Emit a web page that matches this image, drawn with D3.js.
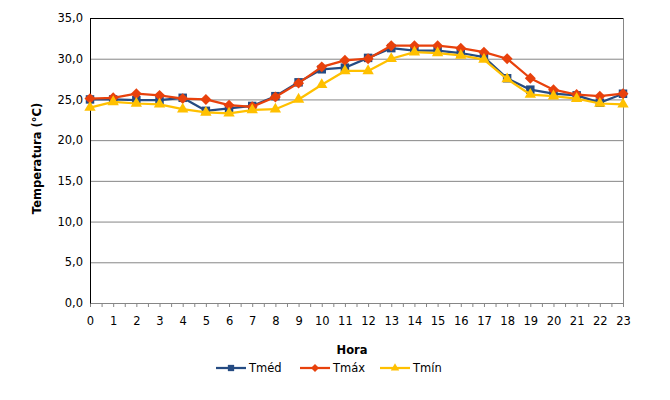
<!DOCTYPE html>
<html>
<head>
<meta charset="utf-8">
<script src="https://cdn.jsdelivr.net/npm/d3@7"></script>
<style>
  body { margin: 0; background: #fff; }
  svg text { font-family: Verdana, "DejaVu Sans", sans-serif; fill: #000; }
</style>
</head>
<body>
<svg id="chart" width="670" height="400"></svg>
<script>
// Hours 0..23
const hours = d3.range(0, 24);
const yTicks = [0, 5, 10, 15, 20, 25, 30, 35];

const tmed = [25.0, 25.0, 24.9, 24.9, 25.2, 23.6, 23.9, 24.2, 25.4, 27.1, 28.7, 28.9,
              30.1, 31.3, 31.0, 31.0, 30.7, 30.2, 27.6, 26.2, 25.7, 25.5, 24.6, 25.7];
const tmax = [25.1, 25.2, 25.7, 25.5, 25.1, 25.0, 24.3, 24.1, 25.3, 27.0, 29.0, 29.8,
              30.0, 31.6, 31.6, 31.6, 31.3, 30.8, 30.0, 27.6, 26.2, 25.6, 25.4, 25.7];
const tmin = [24.0, 24.7, 24.5, 24.4, 23.8, 23.4, 23.3, 23.7, 23.8, 25.0, 26.8, 28.5,
              28.5, 30.0, 30.8, 30.7, 30.4, 29.9, 27.5, 25.6, 25.4, 25.1, 24.5, 24.4];

const series = [
  { name: 'Tméd', values: tmed, color: '#254B82', symbol: d3.symbolSquare, size: 72, rot: 0 },
  { name: 'Tmáx', values: tmax, color: '#E8410C', symbol: d3.symbolSquare, size: 60, rot: 45 },
  { name: 'Tmín', values: tmin, color: '#FFC000', symbol: d3.symbolTriangle, size: 56, rot: 0 }
];

const margin = { top: 18, left: 90 };
const width = 533, height = 285;

const svg = d3.select('#chart');
const g = svg.append('g').attr('transform', `translate(${margin.left},${margin.top})`);

const x = d3.scaleLinear().domain([0, 23]).range([0, width]);
const y = d3.scaleLinear().domain([0, 35]).range([height, 0]);
const fmt = d => d.toFixed(1).replace('.', ',');

// Grid
g.append('g')
  .call(d3.axisLeft(y).tickValues(yTicks.slice(1, -1)).tickSize(-width).tickFormat(''))
  .call(ax => ax.select('.domain').remove())
  .call(ax => ax.selectAll('line').attr('stroke', '#868686').attr('stroke-width', 1));

// Plot border: top black, right gray
g.append('line').attr('x1', 0).attr('x2', width).attr('y1', 0.5).attr('y2', 0.5)
  .attr('stroke', '#000');
g.append('line').attr('x1', width + 0.5).attr('x2', width + 0.5).attr('y1', 0).attr('y2', height)
  .attr('stroke', '#868686');

// X axis
g.append('g').attr('transform', `translate(0,${height})`)
  .call(d3.axisBottom(x).tickValues(d3.range(0, 23.01, 0.5)).tickSize(4).tickFormat(''))
  .call(ax => ax.select('.domain').attr('stroke', '#868686'))
  .call(ax => ax.selectAll('line').attr('stroke', '#868686'));

g.append('g').attr('transform', `translate(0,${height})`)
  .call(d3.axisBottom(x).tickValues(hours).tickSize(0).tickPadding(14).tickFormat(d => d))
  .call(ax => ax.select('.domain').remove())
  .call(ax => ax.selectAll('text').attr('font-size', 11.5));

// Y axis
g.append('g')
  .call(d3.axisLeft(y).tickValues(yTicks).tickSize(0).tickPadding(7).tickFormat(fmt))
  .call(ax => ax.select('.domain').attr('stroke', '#000'))
  .call(ax => ax.selectAll('text').attr('font-size', 11.5));

// Axis titles
g.append('text')
  .attr('x', 262).attr('y', height + 51)
  .attr('text-anchor', 'middle').attr('font-size', 11.5).attr('font-weight', 'bold')
  .text('Hora');

g.append('text')
  .attr('transform', 'rotate(-90)')
  .attr('x', -height / 2 + 2).attr('y', -49)
  .attr('text-anchor', 'middle').attr('font-size', 11.5).attr('font-weight', 'bold')
  .text('Temperatura (°C)');

// Lines and markers
const line = d3.line().x((d, i) => x(hours[i])).y(d => y(d));

series.forEach(s => {
  g.append('path')
    .attr('d', line(s.values))
    .attr('fill', 'none').attr('stroke', s.color).attr('stroke-width', 2.25)
    .attr('stroke-linejoin', 'round');
  g.append('g').selectAll('path')
    .data(s.values)
    .join('path')
    .attr('transform', (d, i) => `translate(${x(hours[i])},${y(d)}) rotate(${s.rot})`)
    .attr('d', d3.symbol().type(s.symbol).size(s.size))
    .attr('fill', s.color);
});

// Legend
const legendX = [216, 300, 380];
const legend = svg.append('g').attr('transform', 'translate(0,368)');
series.forEach((s, i) => {
  const lg = legend.append('g').attr('transform', `translate(${legendX[i]},0)`);
  lg.append('line').attr('x1', 0).attr('x2', 30).attr('stroke', s.color).attr('stroke-width', 2.25);
  lg.append('path').attr('transform', `translate(15,0) rotate(${s.rot})`)
    .attr('d', d3.symbol().type(s.symbol).size(s.size * 0.55)).attr('fill', s.color);
  lg.append('text').attr('x', 33).attr('y', 4).attr('font-size', 11.5).text(s.name);
});
</script>
</body>
</html>
